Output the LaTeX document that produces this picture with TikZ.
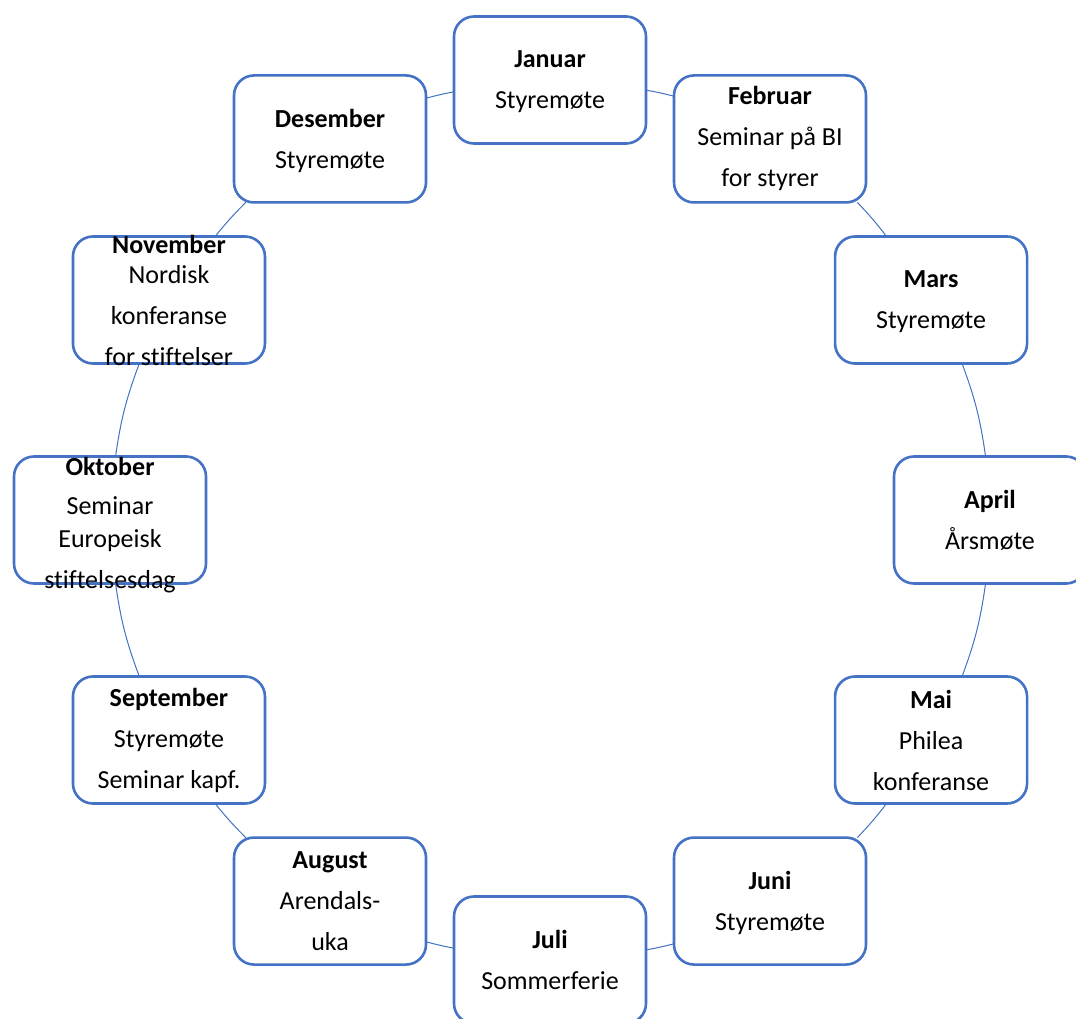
\documentclass[tikz,border=0pt]{standalone}
\usepackage{fontspec}
\setmainfont{Carlito}[Ligatures=NoCommon]
\definecolor{bl}{HTML}{4472C4}
\begin{document}
\begin{tikzpicture}[x=1pt,y=-1pt,
  box/.style={draw=bl, line width=2.6pt, rounded corners=20pt, minimum width=192pt, minimum height=127pt, inner sep=0pt, outer sep=0pt, fill=white},
  txt/.style={align=center, font=\fontsize{26}{41}\selectfont, inner sep=0pt, text=black},
  link/.style={draw=bl, line width=1pt}]
\clip (0,0) rectangle (1076,1019);
\fill[white] (0,0) rectangle (1076,1019);
% boxes
\node[box] (jan) at (550,80) {};
\node[box] (feb) at (770,138.95) {};
\node[box] (mar) at (931.05,300) {};
\node[box] (apr) at (990,520) {};
\node[box] (mai) at (931.05,740) {};
\node[box] (jun) at (770,901.05) {};
\node[box] (jul) at (550,960) {};
\node[box] (aug) at (330,901.05) {};
\node[box] (sep) at (168.95,740) {};
\node[box] (okt) at (110,520) {};
\node[box] (nov) at (168.95,300) {};
\node[box] (des) at (330,138.95) {};
% texts
\node[txt, yshift=-2pt] (jan-t) at (jan) {\textbf{Januar}\\Styremøte};
\node[txt] (feb-t) at (feb) {\textbf{Februar}\\Seminar på BI\\for styrer};
\node[txt, yshift=-2pt] (mar-t) at (mar) {\textbf{Mars}\\Styremøte};
\node[txt] (apr-t) at (apr) {\textbf{April}\\Årsmøte};
\node[txt] (mai-t) at (mai) {\textbf{Mai}\\Philea\\konferanse};
\node[txt, yshift=-2pt] (jun-t) at (jun) {\textbf{Juni}\\Styremøte};
\node[txt] (jul-t) at (jul) {\textbf{Juli}\\Sommerferie};
\node[txt] (aug-t) at (aug) {\textbf{August}\\Arendals-\\uka};
\node[txt] (sep-t) at (sep) {\textbf{September}\\Styremøte\\Seminar kapf.};
\node[txt, yshift=-5pt] (okt-t) at (okt) {\textbf{Oktober}\\[-2pt]Seminar\\[-8pt]Europeisk\\stiftelsesdag};
\node[txt] (nov-t) at (nov) {\textbf{November}\\[-11pt]Nordisk\\konferanse\\for stiftelser};
\node[txt, yshift=-2pt] (des-t) at (des) {\textbf{Desember}\\Styremøte};
% connectors (arcs of the cycle)
\draw[link] (jan.-6.3) to[bend left=1.9] (feb.156.8);
\draw[link] (feb.-36.9) to[bend left=3] (mar.125.1);
\draw[link] (mar.-64.6) to[bend left=6.2] (apr.94.2);
\draw[link] (apr.-94.2) to[bend left=6.2] (mai.64.6);
\draw[link] (mai.-125.1) to[bend left=3] (jun.36.9);
\draw[link] (jun.-156.8) to[bend left=1.9] (jul.6.3);
\draw[link] (jul.173.7) to[bend left=1.9] (aug.-23.2);
\draw[link] (aug.143.1) to[bend left=3] (sep.-54.9);
\draw[link] (sep.115.4) to[bend left=6.2] (okt.-85.8);
\draw[link] (okt.85.8) to[bend left=6.2] (nov.-115.4);
\draw[link] (nov.54.9) to[bend left=3] (des.-143.1);
\draw[link] (des.23.2) to[bend left=1.9] (jan.-173.7);
\end{tikzpicture}
\end{document}
